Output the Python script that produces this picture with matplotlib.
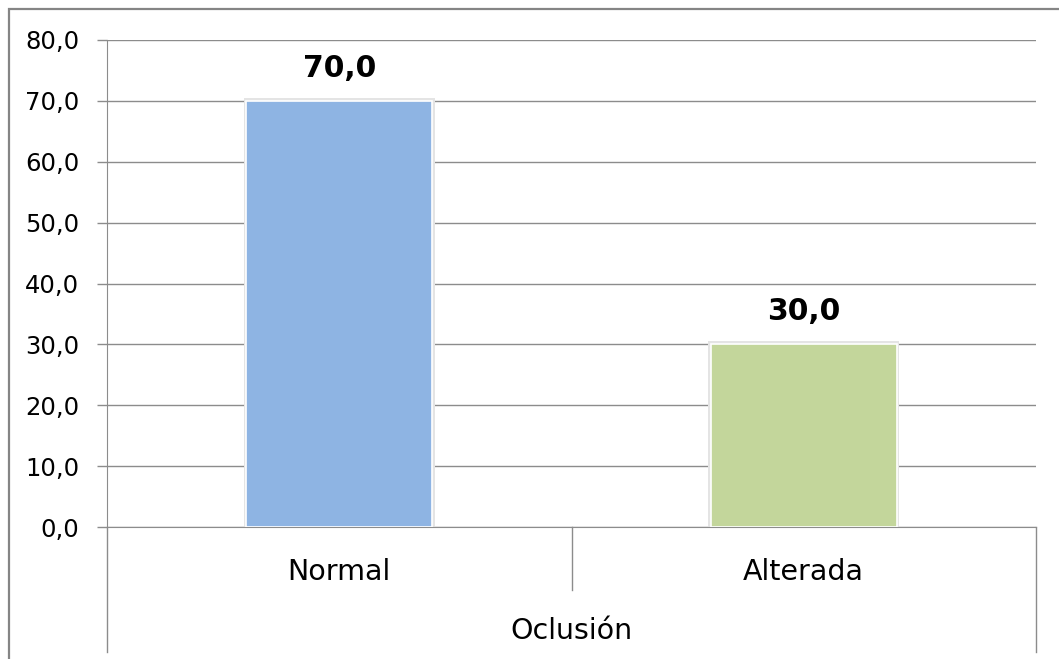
import matplotlib.pyplot as plt
from matplotlib.patches import Rectangle

# Data
categories = ['Normal', 'Alterada']
values = [70.0, 30.0]
bar_colors = ['#8EB4E3', '#C3D69B']
axis_title = 'Oclusión'
y_ticks = [0, 10, 20, 30, 40, 50, 60, 70, 80]

W, H = 1059, 659
fig = plt.figure(figsize=(W / 100, H / 100), dpi=100)
fig.patch.set_facecolor('white')

# outer chart border (right/bottom edges lie outside the picture)
fig.patches.append(Rectangle((9 / W, -0.1), 1.2, 1 - 9 / H + 0.1, transform=fig.transFigure,
                             fill=False, edgecolor='#858585', linewidth=1.6))

left, right, top, bottom = 107, 1036, 40, 527
ax = fig.add_axes([left / W, 1 - bottom / H, (right - left) / W, (bottom - top) / H])

grid_col = '#8C8C8C'
x = list(range(len(categories)))
bars = ax.bar(x, values, width=0.4, color=bar_colors, edgecolor='white', linewidth=1.2, zorder=3)
for b in bars:
    # soft shadow around the bar
    ax.add_patch(Rectangle((b.get_x() - 0.006, 0), b.get_width() + 0.012, b.get_height() + 0.5,
                           facecolor='#E4E4E4', edgecolor='none', zorder=2))

for xi, v in zip(x, values):
    ax.text(xi, v + 3.0, f'{v:.1f}'.replace('.', ','), ha='center', va='bottom',
            fontsize=21.5, fontweight='bold', color='black')

ax.set_xlim(-0.5, len(categories) - 0.5)
ax.set_ylim(0, 80)
ax.set_yticks(y_ticks)
ax.set_yticklabels([f'{t:.1f}'.replace('.', ',') for t in y_ticks], fontsize=17.5)
ax.tick_params(axis='y', direction='out', length=7, width=1, color=grid_col, pad=13)
ax.set_xticks([])
ax.yaxis.grid(True, color=grid_col, linewidth=1, zorder=1)
ax.set_axisbelow(True)

for s in ['top', 'right']:
    ax.spines[s].set_visible(False)
ax.spines['left'].set_color(grid_col)
ax.spines['bottom'].set_color(grid_col)
ax.spines['left'].set_bounds(0, 80)

# category axis box lines below the plot
tr = ax.get_xaxis_transform()
lo = (bottom - 652) / (bottom - top)
mid = (bottom - 590) / (bottom - top)
ax.plot([-0.5, -0.5], [0, lo], transform=tr, color=grid_col, lw=1, clip_on=False)
ax.plot([1.5, 1.5], [0, lo], transform=tr, color=grid_col, lw=1, clip_on=False)
ax.plot([0.5, 0.5], [0, mid], transform=tr, color=grid_col, lw=1, clip_on=False)

for xi, c in zip(x, categories):
    ax.text(xi, (bottom - 572) / (bottom - top), c, transform=tr, ha='center', va='center',
            fontsize=20.5)
ax.text(0.5, (bottom - 631) / (bottom - top), axis_title, transform=tr, ha='center',
        va='center', fontsize=20.5)

fig.savefig('out.png', dpi=100)
